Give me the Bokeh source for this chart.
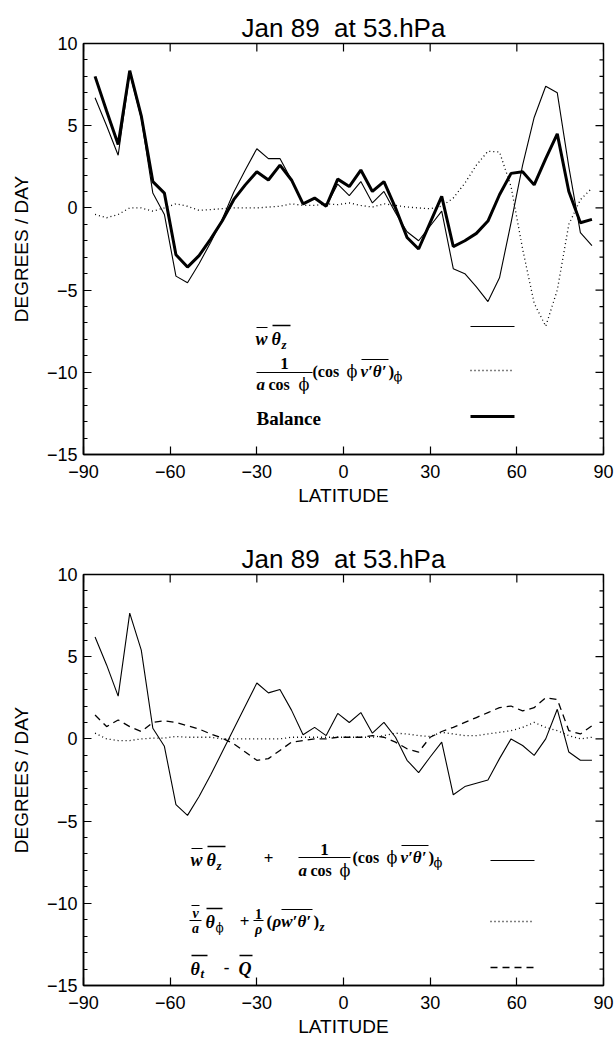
from bokeh.plotting import figure
from bokeh.models import FixedTicker, SingleIntervalTicker, Range1d
from bokeh.layouts import column
from bokeh.embed import file_html
from bokeh.resources import INLINE
from bokeh.core.properties import value

# ---------------- data ----------------
lat = [-86, -82, -78, -74, -70, -66, -62, -58, -54, -50, -46, -42, -38, -34, -30,
       -26, -22, -18, -14, -10, -6, -2, 2, 6, 10, 14, 18, 22, 26, 30, 34, 38, 42,
       46, 50, 54, 58, 62, 66, 70, 74, 78, 82, 86]

# upper panel
w_theta_z = [6.7, 5.0, 3.2, 8.2, 5.45, 0.9, -0.4, -4.15, -4.55, -3.4, -2.1, -0.7, 0.95, 2.3, 3.6,
             3.0, 3.0, 1.7, 0.25, 0.6, 0.1, 1.45, 0.75, 1.6, 0.3, 1.0, -0.3, -1.45, -2.0, -1.1, -0.2, -3.7, -4.0,
             -4.8, -5.7, -4.25, -0.9, 2.6, 5.5, 7.4, 7.0, 2.5, -1.5, -2.3]
eddy_flux_div = [-0.4, -0.6, -0.4, 0.0, 0.0, -0.2, 0.0, 0.25, 0.1, -0.15, -0.1, -0.05, 0.0, 0.0, 0.0,
                 0.05, 0.1, 0.25, 0.15, 0.15, 0.25, 0.2, 0.3, 0.15, 0.05, 0.25, 0.15, 0.05, 0.0, -0.05, 0.1, 0.6, 1.5,
                 2.6, 3.45, 3.4, 1.3, -2.5, -5.8, -7.2, -5.0, -1.0, 0.5, 1.2]
balance = [8.0, 5.9, 3.85, 8.35, 5.6, 1.6, 0.9, -2.85, -3.6, -2.9, -1.9, -0.8, 0.5, 1.4, 2.2,
           1.7, 2.6, 1.7, 0.25, 0.6, 0.1, 1.75, 1.3, 2.3, 1.0, 1.6, 0.0, -1.8, -2.5, -0.9, 0.7, -2.35, -2.0,
           -1.55, -0.8, 0.8, 2.1, 2.2, 1.4, 3.0, 4.5, 1.0, -0.9, -0.7]

# lower panel
vert_plus_eddy = [6.2, 4.5, 2.6, 7.65, 5.4, 0.65, -0.45, -4.0, -4.65, -3.5, -2.2, -0.8, 0.6, 2.0, 3.4,
                  2.8, 3.0, 1.75, 0.25, 0.7, 0.2, 1.55, 1.0, 1.6, 0.35, 1.0, 0.1, -1.3, -2.05, -1.1, -0.2, -3.4, -2.9,
                  -2.7, -2.5, -1.2, 0.0, -0.4, -1.0, 0.0, 1.8, -0.8, -1.3, -1.3]
horiz_plus_vert_eddy = [0.35, 0.0, -0.1, -0.1, 0.0, 0.05, 0.05, 0.15, 0.1, 0.1, 0.1, 0.0, 0.0, 0.0, 0.0,
                        0.0, 0.0, 0.1, 0.1, 0.1, 0.1, 0.1, 0.1, 0.1, 0.1, 0.2, 0.35, 0.3, 0.2, 0.15, 0.4, 0.3, 0.2,
                        0.2, 0.3, 0.4, 0.5, 0.7, 1.0, 0.7, 0.5, 0.2, 0.0, 0.1]
tend_minus_q = [1.45, 0.75, 1.15, 0.75, 0.45, 1.0, 1.1, 1.0, 0.8, 0.6, 0.3, 0.05, -0.3, -0.8, -1.3,
                -1.2, -0.7, -0.2, -0.1, 0.0, 0.0, 0.1, 0.1, 0.1, 0.2, 0.1, -0.2, -0.6, -0.8, 0.1, 0.45, 0.7, 1.0,
                1.3, 1.6, 1.9, 2.0, 1.7, 1.9, 2.5, 2.4, 0.5, 0.3, 0.8]

x_ticks = [-90, -60, -30, 0, 30, 60, 90]
y_major = [-15, -10, -5, 0, 5, 10]
title_text = "Jan 89\u00a0 at 53.hPa"
x_label = "LATITUDE"
y_label = "DEGREES / DAY"

# ---------------- layout constants ----------------
W, H = 615, 520
FL, FW, FH = 83, 520, 411
SANS = "Liberation Sans"
SERIF = "Liberation Serif"
GREEK = "DejaVu Serif"
PHI = "\u03d5"
XPX = 180.0 / FW   # data units per pixel (x)
YPX = 25.0 / FH    # data units per pixel (y)


def make_fig(top_border, bottom_border):
    p = figure(width=W, height=H, x_range=Range1d(-90, 90), y_range=Range1d(-15, 10),
               output_backend="svg", toolbar_location=None,
               min_border_left=FL, min_border_right=W - FL - FW,
               min_border_top=top_border, min_border_bottom=bottom_border,
               x_axis_label=x_label, y_axis_label=y_label)
    p.grid.visible = False
    p.outline_line_color = "black"
    p.outline_line_width = 1.5
    p.background_fill_color = "white"
    p.border_fill_color = "white"
    p.title.text = title_text
    p.title.align = "center"
    p.title.text_font = SANS
    p.title.text_font_size = "26px"
    p.title.text_font_style = "normal"
    p.title.text_color = "black"
    p.title.standoff = 2

    p.xaxis.ticker = FixedTicker(ticks=x_ticks)
    p.yaxis.ticker = SingleIntervalTicker(interval=5, num_minor_ticks=5)
    for ax in (p.xaxis[0], p.yaxis[0]):
        ax.axis_line_width = 1.5
        ax.major_tick_in = 8
        ax.major_tick_out = 0
        ax.minor_tick_in = 4
        ax.minor_tick_out = 0
        ax.major_tick_line_width = 1.2
        ax.major_label_text_font = SANS
        ax.major_label_text_font_size = "18px"
        ax.major_label_text_color = "black"
        ax.axis_label_text_font = SANS
        ax.axis_label_text_font_size = "19px"
        ax.axis_label_text_font_style = "normal"
        ax.axis_label_text_color = "black"
    p.xaxis.minor_tick_in = 0
    p.xaxis.major_label_standoff = 10
    p.xaxis.axis_label_standoff = 4
    p.yaxis.major_label_standoff = 6
    p.yaxis.axis_label_standoff = 12

    # mirrored inward ticks on the top and right frame edges
    p.segment(x0=x_ticks, y0=[10] * len(x_ticks), x1=x_ticks, y1=[10 - 8 * YPX] * len(x_ticks),
              line_color="black", line_width=1.2)
    ys = list(range(y_major[0], y_major[-1] + 1))
    lens = [8 if v in y_major else 4 for v in ys]
    p.segment(x0=[90] * len(ys), y0=ys, x1=[90 - L * XPX for L in lens], y1=ys,
              line_color="black", line_width=1.2)
    return p


def px2x(px):
    return (px - FL) * XPX - 90


def px2y(py, top):
    return 10 - (py - top) * YPX


def put(p, top, x, y, s, size="17px", style="bold", font=SERIF, align="left"):
    p.text(x=[px2x(x)], y=[px2y(y, top)], text=[s], text_font=value(font),
           text_font_size=size, text_font_style=style, text_align=align,
           text_baseline="middle", text_color="black")


def phi(p, top, x, y, size="16px"):
    put(p, top, x, y, PHI, size, "normal", GREEK)


def seg(p, top, x0, y0, x1, y1, width=1.0, dash="solid"):
    p.segment(x0=[px2x(x0)], y0=[px2y(y0, top)], x1=[px2x(x1)], y1=[px2y(y1, top)],
              line_color="black", line_width=width, line_dash=dash)


DOT = "1 3"
DASH = "7 5"

# ---------------- upper panel ----------------
p1 = make_fig(43, H - 43 - FH)
T1 = 43
p1.line(lat, w_theta_z, line_color="black", line_width=1.1)
p1.line(lat, eddy_flux_div, line_color="black", line_width=1.3, line_dash=DOT)
p1.line(lat, balance, line_color="black", line_width=3)

# legend row 1
put(p1, T1, 255, 338, "w", "18px", "bold italic")
seg(p1, T1, 256, 327, 267, 327, 1.1)
put(p1, T1, 271, 338, "\u03b8", "18px", "bold italic")
seg(p1, T1, 272, 325, 290, 325, 1.3)
put(p1, T1, 281, 344, "z", "13px", "bold italic")
seg(p1, T1, 470, 326, 514, 326, 1.1)
# legend row 2
put(p1, T1, 284, 363, "1", "17px", "bold", align="center")
seg(p1, T1, 256, 372, 312, 372, 1.2)
put(p1, T1, 256, 384, "a", "17px", "bold italic")
put(p1, T1, 268, 384, "cos", "16px", "bold")
phi(p1, T1, 298, 384)
put(p1, T1, 312, 371, "(cos", "16px", "bold")
phi(p1, T1, 346, 371)
put(p1, T1, 360, 371, "v\u2032\u03b8\u2032", "17px", "bold italic")
seg(p1, T1, 361, 359, 388, 359, 1.2)
put(p1, T1, 388, 371, ")", "17px", "bold")
phi(p1, T1, 393, 376, "13px")
seg(p1, T1, 470, 370, 514, 370, 1.3, DOT)
# legend row 3
put(p1, T1, 256, 418, "Balance", "19px", "bold")
seg(p1, T1, 470, 416, 514, 416, 3)

# ---------------- lower panel ----------------
T2 = 574
p2 = make_fig(T2 - H, H - (T2 - H) - FH)
p2.line(lat, vert_plus_eddy, line_color="black", line_width=1.1)
p2.line(lat, horiz_plus_vert_eddy, line_color="black", line_width=1.3, line_dash=DOT)
p2.line(lat, tend_minus_q, line_color="black", line_width=1.3, line_dash=DASH)

# row 1
put(p2, T2, 190, 859, "w", "18px", "bold italic")
seg(p2, T2, 191, 848, 202, 848, 1.1)
put(p2, T2, 206, 859, "\u03b8", "18px", "bold italic")
seg(p2, T2, 207, 846, 225, 846, 1.3)
put(p2, T2, 216, 865, "z", "13px", "bold italic")
put(p2, T2, 268, 858, "+", "17px", "bold", align="center")
put(p2, T2, 324, 849, "1", "17px", "bold", align="center")
seg(p2, T2, 298, 857, 350, 857, 1.2)
put(p2, T2, 298, 870, "a", "17px", "bold italic")
put(p2, T2, 310, 870, "cos", "16px", "bold")
phi(p2, T2, 339, 870)
put(p2, T2, 352, 857, "(cos", "16px", "bold")
phi(p2, T2, 386, 857)
put(p2, T2, 400, 857, "v\u2032\u03b8\u2032", "17px", "bold italic")
seg(p2, T2, 401, 845, 428, 845, 1.2)
put(p2, T2, 428, 857, ")", "17px", "bold")
phi(p2, T2, 433, 862, "13px")
seg(p2, T2, 490, 860, 534, 860, 1.1)
# row 2
put(p2, T2, 195, 913, "v", "14px", "bold italic", align="center")
seg(p2, T2, 191, 905, 199, 905, 1.0)
seg(p2, T2, 189, 920, 201, 920, 1.0)
put(p2, T2, 195, 928, "a", "14px", "bold italic", align="center")
put(p2, T2, 205, 921, "\u03b8", "18px", "bold italic")
seg(p2, T2, 206, 908, 222, 908, 1.3)
phi(p2, T2, 215, 927, "12px")
put(p2, T2, 244, 921, "+", "17px", "bold", align="center")
put(p2, T2, 258, 913, "1", "14px", "bold", align="center")
seg(p2, T2, 253, 920, 263, 920, 1.0)
put(p2, T2, 258, 929, "\u03c1", "14px", "bold italic", align="center")
put(p2, T2, 266, 921, "(", "17px", "bold")
put(p2, T2, 272, 921, "\u03c1w\u2032\u03b8\u2032", "17px", "bold italic")
seg(p2, T2, 281, 909, 312, 909, 1.2)
put(p2, T2, 313, 921, ")", "17px", "bold")
put(p2, T2, 319, 926, "z", "13px", "bold italic")
seg(p2, T2, 490, 921, 534, 921, 1.3, DOT)
# row 3
put(p2, T2, 190, 968, "\u03b8", "18px", "bold italic")
seg(p2, T2, 191, 955, 207, 955, 1.3)
put(p2, T2, 200, 973, "t", "13px", "bold italic")
put(p2, T2, 226, 967, "-", "17px", "bold", align="center")
put(p2, T2, 238, 968, "Q", "18px", "bold italic")
seg(p2, T2, 239, 955, 252, 955, 1.3)
seg(p2, T2, 490, 967, 534, 967, 1.3, DASH)

layout = column(p1, p2, spacing=0)
open("out.html", "w").write(file_html(layout, INLINE))
